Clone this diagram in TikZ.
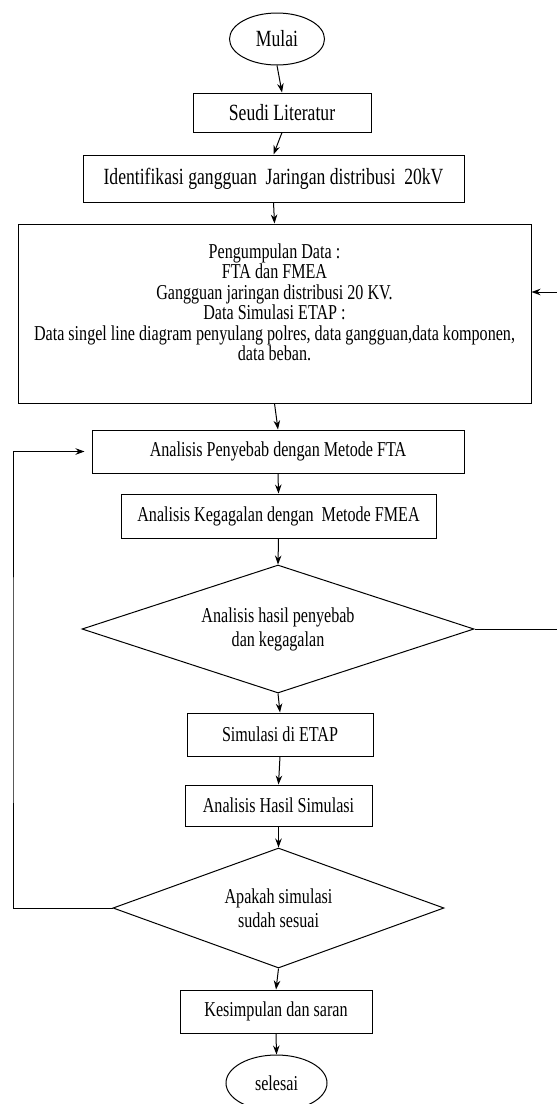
\documentclass[tikz,border=0pt]{standalone}
\usepackage{fontspec}
\setmainfont[FakeStretch=0.76]{Liberation Serif}
\usetikzlibrary{shapes.geometric,arrows.meta}
\begin{document}
\begin{tikzpicture}[x=1pt,y=-1pt,
  line width=1pt,
  big/.style={font=\fontsize{23.2}{26}\selectfont},
  small/.style={font=\fontsize{21.2}{20.5}\selectfont},
  box/.style={draw, rectangle, inner sep=0pt, anchor=center},
  oval/.style={draw, ellipse, inner sep=0pt},
  dia/.style={draw, diamond, inner sep=0pt, align=center, font=\fontsize{21.2}{24}\selectfont},
  arr/.style={-{Stealth[length=9pt,width=6.5pt]}}
]
\useasboundingbox (0,0) rectangle (557,1104);
\fill[white] (0,0) rectangle (557,1104);

\node[oval, big, minimum width=95pt, minimum height=52pt] (mulai) at (277,39) {Mulai};
\node[box, big, minimum width=178pt, minimum height=39pt] (seudi) at (282,112.5) {Seudi Literatur};
\node[box, big, minimum width=381pt, minimum height=47pt] (ident) at (273.5,178.5) {Identifikasi gangguan\ \ Jaringan distribusi\ \ 20kV};
\node[box, minimum width=513pt, minimum height=179pt] (data) at (274.5,313.5) {};
\node[small, align=center, inner sep=0pt] (datatext) at (274.5,302.5) {Pengumpulan Data :\\FTA dan FMEA\\Gangguan jaringan distribusi 20 KV.\\Data Simulasi ETAP :\\Data singel line diagram penyulang polres, data gangguan,data komponen,\\data beban.};
\node[box, small, minimum width=372pt, minimum height=43pt] (penyebab) at (278,451.5) {Analisis Penyebab dengan Metode FTA};
\node[box, small, minimum width=315pt, minimum height=44pt] (kegagalan) at (278.5,516) {Analisis Kegagalan dengan\ \ Metode FMEA};
\node[dia, minimum width=392pt, minimum height=128pt, aspect=3] (d1) at (278,629) {Analisis hasil penyebab\\dan kegagalan};
\node[box, small, minimum width=186pt, minimum height=43pt] (simulasi) at (280,734.5) {Simulasi di ETAP};
\node[box, small, minimum width=187pt, minimum height=41pt] (hasil) at (278.5,805.5) {Analisis Hasil Simulasi};
\node[dia, minimum width=331pt, minimum height=120pt, aspect=2.7] (d2) at (278.5,908) {Apakah simulasi\\sudah sesuai};
\node[box, small, minimum width=192pt, minimum height=43pt] (kesimpulan) at (276,1011.5) {Kesimpulan dan saran};
\node[oval, small, minimum width=101pt, minimum height=56pt] (selesai) at (276.5,1083) {selesai};

\coordinate (r1) at (557,629);
\coordinate (r2) at (557,292);
\coordinate (lp) at (13,700);

\draw[arr] (mulai.south) -- (seudi.north);
\draw[arr] (seudi.south) -- (ident.north);
\draw[arr] (ident.south) -- (data.north);
\draw[arr] (data.south) -- (penyebab.north);
\draw[arr] (penyebab.south) -- (kegagalan.north);
\draw[arr] (kegagalan.south) -- (d1.north);
\draw[arr] (d1.south) -- (simulasi.north);
\draw[arr] (simulasi.south) -- (hasil.north);
\draw[arr] (hasil.south) -- (d2.north);
\draw[arr] (d2.south) -- (kesimpulan.north);
\draw[arr] (kesimpulan.south) -- (selesai.north);

\draw (d1.east) -- (r1);
\draw[arr] (r2) -- (r2 -| data.east);
\draw[arr, shorten >=7pt] (d2.west) -| (lp) |- (penyebab.west);
\end{tikzpicture}
\end{document}
